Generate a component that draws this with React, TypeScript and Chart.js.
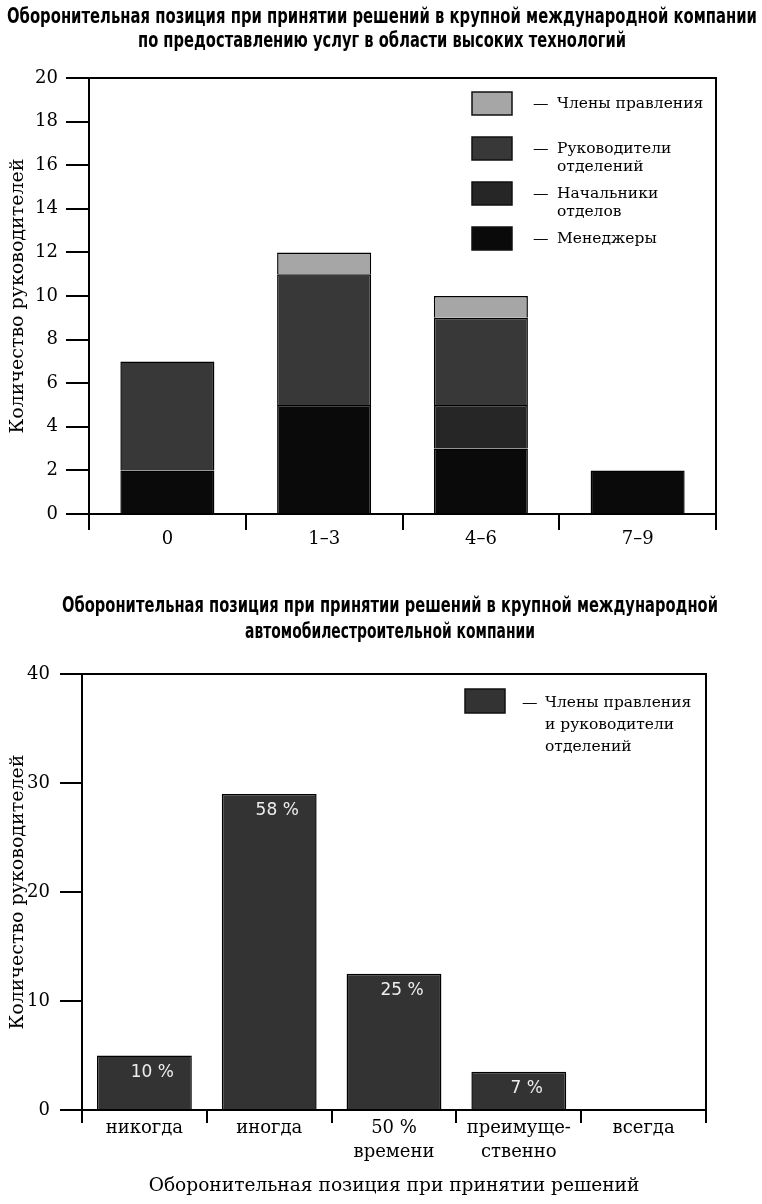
import React, { useEffect, useRef } from 'react';
import { Chart, registerables } from 'chart.js';

Chart.register(...registerables);

const SERIF = "'DejaVu Serif', 'Liberation Serif', serif";
const SANS = "'DejaVu Sans', 'Liberation Sans', sans-serif";
const TITLE_FONT = "'DejaVu Sans', 'Liberation Sans', sans-serif";

// ---------- Chart 1 data ----------
const topTitleLines = [
  'Оборонительная позиция при принятии решений в крупной международной компании',
  'по предоставлению услуг в области высоких технологий',
];
const topCategories = ['0', '1–3', '4–6', '7–9'];
const managers = [2, 5, 3, 2];
const sectionHeads = [0, 0, 2, 0];
const divisionHeads = [5, 6, 4, 0];
const boardMembers = [0, 1, 1, 0];
const topYMax = 20;
const topYStep = 2;
const yAxisTitle = 'Количество руководителей';
const topLegendLines = [
  ['Члены правления'],
  ['Руководители', 'отделений'],
  ['Начальники', 'отделов'],
  ['Менеджеры'],
];

// ---------- Chart 2 data ----------
const bottomTitleLines = [
  'Оборонительная позиция при принятии решений в крупной международной',
  'автомобилестроительной компании',
];
const bottomCategories = [['никогда'], ['иногда'], ['50 %', 'времени'], ['преимуще-', 'ственно'], ['всегда']];
const bottomValues = [5, 29, 12.5, 3.5, 0];
const bottomPercents = ['10 %', '58 %', '25 %', '7 %', ''];
const bottomYMax = 40;
const bottomYStep = 10;
const bottomXAxisTitle = 'Оборонительная позиция при принятии решений';
const bottomLegendLines = [['Члены правления', 'и руководители', 'отделений']];

// ---------- plugins ----------
const titlePlugin = {
  id: 'customTitle',
  afterDraw(chart: any, _args: any, opts: any) {
    const ctx = chart.ctx;
    ctx.save();
    ctx.fillStyle = '#000';
    ctx.font = `bold ${opts.size}px ${TITLE_FONT}`;
    ctx.textAlign = 'center';
    ctx.textBaseline = 'middle';
    opts.lines.forEach((line: string, i: number) => {
      ctx.fillText(line, opts.cx, opts.y0 + i * opts.dy, opts.maxWidths[i]);
    });
    ctx.restore();
  },
};

const framePlugin = {
  id: 'frame',
  afterDraw(chart: any) {
    const { ctx, chartArea } = chart;
    ctx.save();
    ctx.strokeStyle = '#000';
    ctx.lineWidth = 2;
    ctx.beginPath();
    ctx.moveTo(chartArea.left, chartArea.top);
    ctx.lineTo(chartArea.right, chartArea.top);
    ctx.lineTo(chartArea.right, chartArea.bottom);
    ctx.stroke();
    ctx.restore();
  },
};

const boxLegendPlugin = {
  id: 'boxLegend',
  afterDraw(chart: any, _args: any, o: any) {
    const { ctx, chartArea } = chart;
    const x0 = chartArea.right - o.offsetRight;
    const y0 = chartArea.top + o.offsetTop;
    ctx.save();
    o.entries.forEach((entry: any, k: number) => {
      const ds = chart.data.datasets[entry.datasetIndex];
      const top = y0 + k * o.rowGap;
      ctx.fillStyle = ds.backgroundColor;
      ctx.fillRect(x0, top, o.swW, o.swH);
      ctx.strokeStyle = '#111';
      ctx.lineWidth = 1.5;
      ctx.strokeRect(x0, top, o.swW, o.swH);
      ctx.fillStyle = '#000';
      ctx.font = `${o.fontSize}px ${SERIF}`;
      ctx.textAlign = 'left';
      ctx.textBaseline = 'middle';
      const dashX = x0 + o.swW + o.dashGap;
      ctx.fillText('—', dashX, top + o.firstLine);
      entry.lines.forEach((line: string, j: number) => {
        ctx.fillText(line, dashX + o.textIndent, top + o.firstLine + j * o.lineGap);
      });
    });
    ctx.restore();
  },
};

const percentPlugin = {
  id: 'percentLabels',
  afterDatasetsDraw(chart: any, _args: any, o: any) {
    const ctx = chart.ctx;
    const meta = chart.getDatasetMeta(0);
    ctx.save();
    ctx.fillStyle = '#ededed';
    ctx.font = `${o.fontSize}px ${SANS}`;
    ctx.textAlign = 'center';
    ctx.textBaseline = 'middle';
    meta.data.forEach((bar: any, i: number) => {
      const t = o.labels[i];
      if (!t) return;
      ctx.fillText(t, bar.x + o.dx, bar.y + o.dy);
    });
    ctx.restore();
  },
};

function TopChart() {
  const ref = useRef<HTMLCanvasElement>(null);
  useEffect(() => {
    const chart = new Chart(ref.current as HTMLCanvasElement, {
      type: 'bar',
      data: {
        labels: topCategories,
        datasets: [
          { label: 'Менеджеры', data: managers, backgroundColor: '#0a0a0a' },
          { label: 'Начальники отделов', data: sectionHeads, backgroundColor: '#262626' },
          { label: 'Руководители отделений', data: divisionHeads, backgroundColor: '#383838' },
          { label: 'Члены правления', data: boardMembers, backgroundColor: '#a6a6a6' },
        ],
      },
      options: {
        animation: false,
        responsive: false,
        layout: { padding: { top: 78, left: 0, right: 0, bottom: 0 } },
        datasets: { bar: { barPercentage: 0.6, categoryPercentage: 1, borderColor: '#000', borderWidth: 1.5 } },
        plugins: {
          legend: { display: false },
          tooltip: { enabled: false },
          customTitle: { lines: topTitleLines, size: 21, cx: 382, y0: 18, dy: 24, maxWidths: [750, 488] },
          boxLegend: {
            entries: [3, 2, 1, 0].map((di, k) => ({ datasetIndex: di, lines: topLegendLines[k] })),
            offsetRight: 244, offsetTop: 14, swW: 40, swH: 23, rowGap: 45,
            dashGap: 21, textIndent: 24, firstLine: 12, lineGap: 18, fontSize: 15.5,
          },
        } as any,
        scales: {
          x: {
            stacked: true,
            offset: true,
            grid: { offset: true, drawOnChartArea: false, drawTicks: true, tickLength: 16, color: '#000', lineWidth: 2 },
            border: { display: true, color: '#000', width: 2 },
            ticks: { color: '#000', font: { family: SERIF, size: 18 }, padding: -1 },
            afterFit: (s: any) => { s.height = 66; },
          },
          y: {
            stacked: true,
            min: 0,
            max: topYMax,
            ticks: { stepSize: topYStep, color: '#000', font: { family: SERIF, size: 18 }, padding: 8 },
            grid: { drawOnChartArea: false, drawTicks: true, tickLength: 23, color: '#000', lineWidth: 2 },
            border: { display: true, color: '#000', width: 2 },
            title: { display: true, text: yAxisTitle, color: '#000', font: { family: SERIF, size: 19 }, padding: { top: 7, bottom: 0 } },
            afterFit: (s: any) => { s.width = 89; },
          },
          yRight: {
            position: 'right',
            display: true,
            grid: { display: false },
            ticks: { display: false },
            border: { display: false },
            afterFit: (s: any) => { s.width = 46; },
          },
        } as any,
      },
      plugins: [titlePlugin, framePlugin, boxLegendPlugin],
    });
    return () => chart.destroy();
  }, []);
  return (
    <canvas ref={ref} width={762} height={580} style={{ position: 'absolute', left: 0, top: 0, width: 762, height: 580, display: 'block' }} />
  );
}

function BottomChart() {
  const ref = useRef<HTMLCanvasElement>(null);
  useEffect(() => {
    const chart = new Chart(ref.current as HTMLCanvasElement, {
      type: 'bar',
      data: {
        labels: bottomCategories as any,
        datasets: [
          { label: 'Члены правления и руководители отделений', data: bottomValues, backgroundColor: '#333333' },
        ],
      },
      options: {
        animation: false,
        responsive: false,
        layout: { padding: { top: 94, left: 0, right: 0, bottom: 0 } },
        datasets: { bar: { barPercentage: 0.76, categoryPercentage: 1, borderColor: '#000', borderWidth: 1.5 } },
        plugins: {
          legend: { display: false },
          tooltip: { enabled: false },
          customTitle: { lines: bottomTitleLines, size: 21, cx: 390, y0: 27, dy: 26, maxWidths: [656, 290] },
          boxLegend: {
            entries: [{ datasetIndex: 0, lines: bottomLegendLines[0] }],
            offsetRight: 241, offsetTop: 15, swW: 40, swH: 24, rowGap: 45,
            dashGap: 17, textIndent: 23, firstLine: 14, lineGap: 22, fontSize: 15.5,
          },
          percentLabels: { labels: bottomPercents, dx: 8, dy: 17, fontSize: 17 },
        } as any,
        scales: {
          x: {
            offset: true,
            grid: { offset: true, drawOnChartArea: false, drawTicks: true, tickLength: 13, color: '#000', lineWidth: 2 },
            border: { display: true, color: '#000', width: 2 },
            ticks: { color: '#000', font: { family: SERIF, size: 18, lineHeight: 1.35 }, padding: -7 },
            title: { display: true, text: bottomXAxisTitle, color: '#000', font: { family: SERIF, size: 18.6 }, padding: { top: 0, bottom: 7 } },
            afterFit: (s: any) => { s.height = 94; },
          },
          y: {
            min: 0,
            max: bottomYMax,
            ticks: { stepSize: bottomYStep, color: '#000', font: { family: SERIF, size: 18 }, padding: 10 },
            grid: { drawOnChartArea: false, drawTicks: true, tickLength: 22, color: '#000', lineWidth: 2 },
            border: { display: true, color: '#000', width: 2 },
            title: { display: true, text: yAxisTitle, color: '#000', font: { family: SERIF, size: 19 }, padding: { top: 7, bottom: 0 } },
            afterFit: (s: any) => { s.width = 82; },
          },
          yRight: {
            position: 'right',
            display: true,
            grid: { display: false },
            ticks: { display: false },
            border: { display: false },
            afterFit: (s: any) => { s.width = 56; },
          },
        } as any,
      },
      plugins: [titlePlugin, framePlugin, boxLegendPlugin, percentPlugin],
    });
    return () => chart.destroy();
  }, []);
  return (
    <canvas ref={ref} width={762} height={624} style={{ position: 'absolute', left: 0, top: 580, width: 762, height: 624, display: 'block' }} />
  );
}

export default function App() {
  return (
    <div style={{ position: 'absolute', left: 0, top: 0, width: 762, height: 1204, background: '#fff', overflow: 'hidden' }}>
      <TopChart />
      <BottomChart />
    </div>
  );
}
